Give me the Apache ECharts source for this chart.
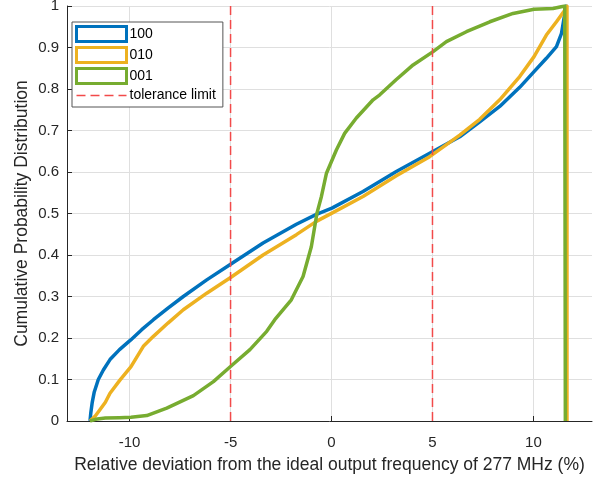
<!DOCTYPE html>
<html>
<head>
<meta charset="utf-8">
<script src="https://cdn.jsdelivr.net/npm/echarts@6/dist/echarts.min.js"></script>
<style>
  html, body { margin: 0; padding: 0; background: #fff; }
  #chart { width: 601px; height: 479px; }
</style>
</head>
<body>
<div id="chart"></div>
<script>
// Empirical CDFs of the relative frequency deviation for three configurations
const seriesNames = ['100', '010', '001'];
const toleranceName = 'tolerance limit';
const toleranceX = [-5, 5];
const xTicks = [-10, -5, 0, 5, 10];

const x100 = [-11.96, -11.92, -11.85, -11.75, -11.55, -11.3, -10.97, -10.5, -9.93, -9.4, -8.82, -8.1, -7.34, -6.18, -4.96, -3.39, -1.74, -0.75, 0.02, 1.56, 3.21, 4.86, 6.35, 7.34, 8.33, 9.32, 10.03, 10.64, 11.14, 11.39, 11.5, 11.6, 11.62, 11.62];
const y100 = [0, 0.02, 0.045, 0.07, 0.10, 0.123, 0.148, 0.172, 0.196, 0.22, 0.244, 0.272, 0.30, 0.34, 0.379, 0.429, 0.474, 0.498, 0.513, 0.553, 0.601, 0.645, 0.685, 0.721, 0.758, 0.804, 0.842, 0.874, 0.902, 0.934, 0.966, 0.994, 1, 0];

const x010 = [-11.96, -11.7, -11.47, -11.2, -10.97, -10.47, -9.93, -9.32, -8.82, -8.1, -7.34, -6.18, -4.96, -3.39, -1.74, -0.75, 0.02, 1.56, 3.21, 4.86, 6.35, 7.34, 8.33, 9.32, 10.03, 10.64, 11.14, 11.55, 11.66, 11.66];
const y010 = [0, 0.012, 0.027, 0.045, 0.067, 0.099, 0.131, 0.18, 0.204, 0.236, 0.268, 0.308, 0.347, 0.40, 0.449, 0.481, 0.501, 0.541, 0.591, 0.637, 0.689, 0.727, 0.774, 0.830, 0.878, 0.930, 0.962, 0.990, 1, 0];

const x001 = [-11.96, -11.6, -11.2, -10.5, -9.93, -9.15, -8.16, -6.84, -5.85, -4.96, -4.04, -3.21, -2.81, -1.99, -1.41, -1.0, -0.72, -0.50, -0.25, 0.24, 0.65, 1.23, 2.06, 2.39, 3.21, 4.04, 5.03, 5.69, 6.68, 7.84, 8.99, 10.03, 10.97, 11.55, 11.58, 11.58];
const y001 = [0, 0.005, 0.007, 0.008, 0.009, 0.013, 0.031, 0.061, 0.095, 0.133, 0.172, 0.216, 0.244, 0.292, 0.348, 0.42, 0.501, 0.541, 0.597, 0.653, 0.693, 0.73, 0.774, 0.786, 0.823, 0.858, 0.89, 0.914, 0.938, 0.962, 0.982, 0.992, 0.994, 1.0, 1, 0];

const colors = ['#0072BD', '#EDB120', '#77AC30'];
const tolColor = '#F24A4A';
const textColor = '#262626';
const fontFamily = '"Liberation Sans", Arial, sans-serif';

const pairs = (xs, ys) => xs.map((v, i) => [v, ys[i]]);
const curves = [pairs(x100, y100), pairs(x010, y010), pairs(x001, y001)];

const curveSeries = seriesNames.map((name, i) => ({
  name: name,
  type: 'line',
  data: curves[i],
  showSymbol: false,
  symbol: 'none',
  smooth: false,
  z: 2 + i,
  lineStyle: { color: colors[i], width: 3.5, join: 'round', cap: 'butt' },
  itemStyle: { color: colors[i] },
  animation: false
}));

const toleranceSeries = toleranceX.map(xv => ({
  name: toleranceName,
  type: 'line',
  data: [[xv, 0], [xv, 1]],
  showSymbol: false,
  symbol: 'none',
  z: 10,
  lineStyle: { color: tolColor, width: 1.5, type: [9, 5] },
  itemStyle: { color: tolColor },
  animation: false
}));

const chart = echarts.init(document.getElementById('chart'), null, { renderer: 'canvas' });
chart.setOption({
  animation: false,
  backgroundColor: '#fff',
  textStyle: { fontFamily: fontFamily },
  grid: { left: 67, top: 6, right: 9, bottom: 58, containLabel: false, outerBoundsMode: 'none' },
  legend: {
    orient: 'vertical',
    left: 72,
    top: 22,
    align: 'left',
    padding: [3, 7, 4, 3],
    itemGap: 3,
    itemWidth: 50,
    itemHeight: 15,
    backgroundColor: '#fff',
    borderColor: '#555',
    borderWidth: 1,
    textStyle: { color: '#000', fontSize: 14, lineHeight: 15, fontFamily: fontFamily, padding: [0, 0, 0, -2] },
    data: seriesNames.map((name, i) => ({
      name: name,
      icon: 'rect',
      itemStyle: { color: '#fff', borderColor: colors[i], borderWidth: 3 }
    })).concat([{
      name: toleranceName,
      itemStyle: { color: 'rgba(0,0,0,0)', borderColor: 'rgba(0,0,0,0)', borderWidth: 0 },
      lineStyle: { color: tolColor, width: 1.5, type: [9, 5] }
    }])
  },
  xAxis: {
    type: 'value',
    min: -13.1,
    max: 12.9,
    name: 'Relative deviation from the ideal output frequency of 277 MHz (%)',
    nameLocation: 'middle',
    nameGap: 35,
    nameMoveOverlap: false,
    nameTextStyle: { color: textColor, fontSize: 17.5, fontFamily: fontFamily },
    axisLine: { show: true, onZero: false, lineStyle: { color: textColor, width: 1 } },
    axisTick: { show: true, inside: true, length: 5, customValues: xTicks, lineStyle: { color: textColor } },
    axisLabel: { color: textColor, fontSize: 15, margin: 14, fontFamily: fontFamily, customValues: xTicks },
    splitLine: { show: true, lineStyle: { color: '#DFDFDF', width: 1 } }
  },
  yAxis: {
    type: 'value',
    min: 0,
    max: 1,
    interval: 0.1,
    name: 'Cumulative Probability Distribution',
    nameLocation: 'middle',
    nameGap: 36,
    nameMoveOverlap: false,
    nameTextStyle: { color: textColor, fontSize: 17.5, fontFamily: fontFamily },
    axisLine: { show: true, onZero: false, lineStyle: { color: textColor, width: 1 } },
    axisTick: { show: true, inside: true, length: 5, lineStyle: { color: textColor } },
    axisLabel: { color: textColor, fontSize: 15, margin: 8, fontFamily: fontFamily },
    splitLine: { show: true, lineStyle: { color: '#DFDFDF', width: 1 } }
  },
  series: curveSeries.concat(toleranceSeries)
});
</script>
</body>
</html>
